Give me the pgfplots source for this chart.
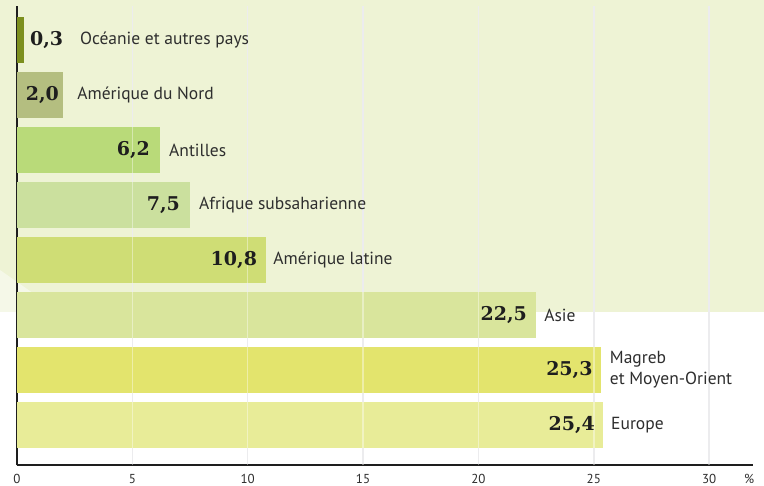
\documentclass[border=0pt]{standalone}
\usepackage{fontspec}
\setmainfont{PT Sans}
\newfontfamily\numfont{DejaVu Serif}
\usepackage{pgfplots}
\pgfplotsset{compat=1.18}
\definecolor{bgpale}{HTML}{EEF3D5}
\definecolor{bglight}{HTML}{F5F8E8}
\definecolor{gridc}{HTML}{E0E0E4}
\definecolor{axisc}{HTML}{1E1E1E}
\definecolor{labc}{HTML}{2E2E2E}
\definecolor{cOce}{HTML}{7C8F1E}
\definecolor{cAmN}{HTML}{B4BE80}
\definecolor{cAnt}{HTML}{B9DA79}
\definecolor{cAfr}{HTML}{CBE09E}
\definecolor{cAmL}{HTML}{CFDD75}
\definecolor{cAsi}{HTML}{D9E59C}
\definecolor{cMag}{HTML}{E3E46D}
\definecolor{cEur}{HTML}{E8EC98}
\tikzset{
  num/.style={font=\numfont\bfseries\fontsize{19}{19}\selectfont, text=axisc, inner sep=0pt},
  lab/.style={font=\fontsize{17.5}{21}\selectfont, text=labc, inner sep=0pt, align=left},
}
\begin{document}
\begin{tikzpicture}[x=1pt,y=1pt]
\useasboundingbox (0,0) rectangle (764,486);
\fill[white] (0,0) rectangle (764,486);
\fill[bgpale] (0,174) rectangle (764,486);
\fill[bglight] (0,216) -- (40,188) -- (40,174) -- (0,174) -- cycle;
\begin{axis}[
  at={(17pt,20.5pt)}, anchor=south west, scale only axis,
  width=736pt, height=459.5pt,
  xmin=0, xmax=31.9, ymin=-0.736, ymax=7.618,
  axis x line*=bottom, axis y line*=left,
  axis line style={line width=2pt, color=axisc, -},
  xtick={0,5,10,15,20,25,30}, ytick=\empty,
  major tick length=0pt,
  xmajorgrids, grid style={color=gridc, line width=1.5pt},
  xticklabel style={font=\fontsize{13}{13}\selectfont, text=labc, yshift=-5pt},
  /pgf/number format/assume math mode=true,
  clip=false,
  xbar, bar width=0.842,
]
\addplot[fill=cEur, draw=none, bar shift=0pt] coordinates {(25.4,0)};
\addplot[fill=cMag, draw=none, bar shift=0pt] coordinates {(25.3,1)};
\addplot[fill=cAsi, draw=none, bar shift=0pt] coordinates {(22.5,2)};
\addplot[fill=cAmL, draw=none, bar shift=0pt] coordinates {(10.8,3)};
\addplot[fill=cAfr, draw=none, bar shift=0pt] coordinates {(7.5,4)};
\addplot[fill=cAnt, draw=none, bar shift=0pt] coordinates {(6.2,5)};
\addplot[fill=cAmN, draw=none, bar shift=0pt] coordinates {(2.0,6)};
\addplot[fill=cOce, draw=none, bar shift=0pt] coordinates {(0.3,7)};
% lighter grid over bars
\draw[white, opacity=0.4, line width=1.5pt] (axis cs:5,-0.736) -- (axis cs:5,7.618);
\draw[white, opacity=0.4, line width=1.5pt] (axis cs:10,-0.736) -- (axis cs:10,7.618);
\draw[white, opacity=0.4, line width=1.5pt] (axis cs:15,-0.736) -- (axis cs:15,7.618);
\draw[white, opacity=0.4, line width=1.5pt] (axis cs:20,-0.736) -- (axis cs:20,7.618);
\draw[white, opacity=0.4, line width=1.5pt] (axis cs:25,-0.736) -- (axis cs:25,7.618);
\draw[white, opacity=0.4, line width=1.5pt] (axis cs:30,-0.736) -- (axis cs:30,7.618);
% numbers
\node[num, anchor=east, xshift=-8pt] at (axis cs:25.4,0) {25,4};
\node[num, anchor=east, xshift=-8pt] at (axis cs:25.3,1) {25,3};
\node[num, anchor=east, xshift=-9pt] at (axis cs:22.5,2) {22,5};
\node[num, anchor=east, xshift=-9pt] at (axis cs:10.8,3) {10,8};
\node[num, anchor=east, xshift=-10pt] at (axis cs:7.5,4) {7,5};
\node[num, anchor=east, xshift=-10pt] at (axis cs:6.2,5) {6,2};
\node[num, anchor=east, xshift=-4pt] at (axis cs:2.0,6) {2,0};
\node[num, anchor=west, xshift=6pt] at (axis cs:0.3,7) {0,3};
% labels
\node[lab, anchor=west, xshift=8pt] at (axis cs:25.4,0) {Europe};
\node[lab, anchor=west, xshift=9pt] at (axis cs:25.3,1) {Magreb\\et Moyen-Orient};
\node[lab, anchor=west, xshift=8pt] at (axis cs:22.5,2) {Asie};
\node[lab, anchor=west, xshift=7pt] at (axis cs:10.8,3) {Amérique latine};
\node[lab, anchor=west, xshift=9pt] at (axis cs:7.5,4) {Afrique subsaharienne};
\node[lab, anchor=west, xshift=9pt] at (axis cs:6.2,5) {Antilles};
\node[lab, anchor=west, xshift=14pt] at (axis cs:2.0,6) {Amérique du Nord};
\node[lab, anchor=west, xshift=56pt] at (axis cs:0.3,7) {Océanie et autres pays};
\node[font=\fontsize{13}{13}\selectfont, text=labc] at (axis cs:31.73,-0.736) [yshift=-13.5pt] {\%};
\end{axis}
\end{tikzpicture}
\end{document}
